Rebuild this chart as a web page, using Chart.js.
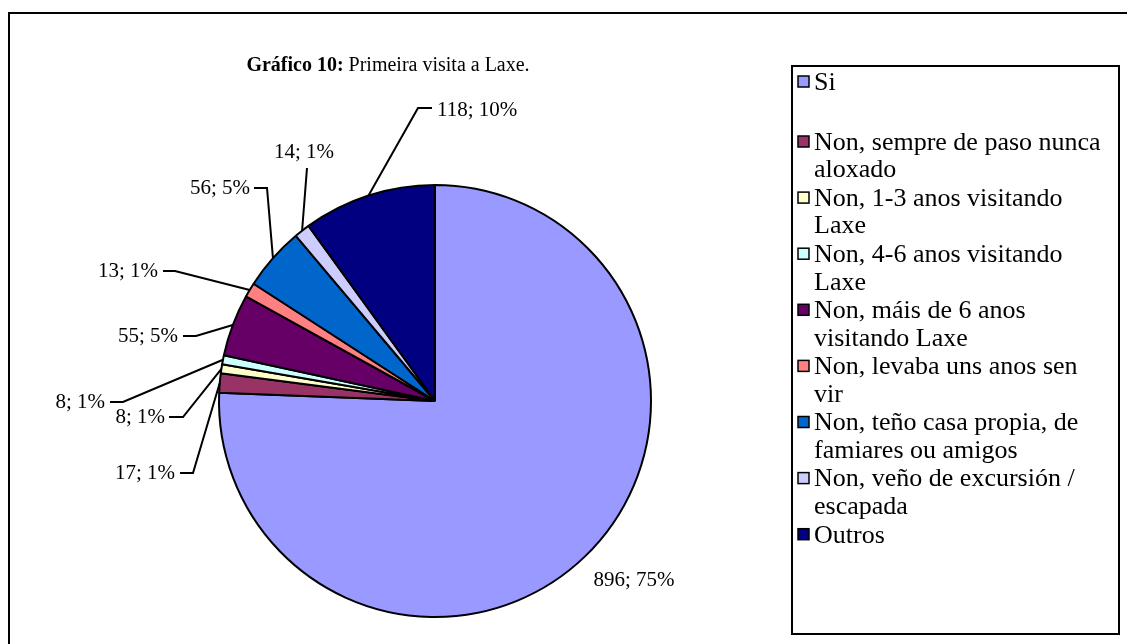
<!DOCTYPE html>
<html><head><meta charset="utf-8">
<script src="https://cdn.jsdelivr.net/npm/chart.js@4.4.1/dist/chart.umd.min.js"></script>
<style>html,body{margin:0;padding:0;background:#fff;overflow:hidden}canvas{display:block}</style>
</head><body>
<canvas id="c" width="1127" height="644"></canvas>
<script>
const categories = ["Si","Non, sempre de paso nunca aloxado","Non, 1-3 anos visitando Laxe","Non, 4-6 anos visitando Laxe","Non, máis de 6 anos visitando Laxe","Non, levaba uns anos sen vir","Non, teño casa propia, de famiares ou amigos","Non, veño de excursión / escapada","Outros"];
const legendLines = [["Si"],["Non, sempre de paso nunca","aloxado"],["Non, 1-3 anos visitando","Laxe"],["Non, 4-6 anos visitando","Laxe"],["Non, máis de 6 anos","visitando Laxe"],["Non, levaba uns anos sen","vir"],["Non, teño casa propia, de","famiares ou amigos"],["Non, veño de excursión /","escapada"],["Outros"]];
const values = [896,17,8,8,55,13,56,14,118];
const percentLabels = ["75%","1%","1%","1%","5%","1%","5%","1%","10%"];
const colors = ["#9999FF","#993366","#FFFFCC","#CCFFFF","#660066","#FF8080","#0066CC","#CCCCFF","#000080"];
const titleBold = "Gráfico 10:";
const titleRest = " Primeira visita a Laxe.";

const FONT = "'Times New Roman','Liberation Serif',serif";
const labelLayout = [
  {x:634,y:580,align:"center",leader:false},
  {x:175,y:473,align:"right",hx:[180,193]},
  {x:165,y:417,align:"right",hx:[169,183]},
  {x:105,y:402,align:"right",hx:[110,123]},
  {x:178,y:336,align:"right",hx:[183,196]},
  {x:158,y:271,align:"right",hx:[163,175]},
  {x:250,y:188,align:"right",hx:[254,267]},
  {x:304,y:152,align:"center",drop:[307,168]},
  {x:437,y:110,align:"left",hx:[418,432],hy:108}
];

const decor = {
  id:"decor",
  beforeDraw(chart){
    const ctx = chart.ctx;
    ctx.save();
    ctx.fillStyle="#fff";ctx.fillRect(0,0,chart.width,chart.height);
    ctx.strokeStyle="#000";ctx.lineWidth=2;
    ctx.strokeRect(9,13,1300,800);
    ctx.restore();
  },
  afterDatasetsDraw(chart){
    const ctx = chart.ctx;
    const meta = chart.getDatasetMeta(0);
    ctx.save();
    ctx.fillStyle="#000";ctx.textBaseline="middle";
    ctx.font="bold 20px "+FONT;
    const wb = ctx.measureText(titleBold).width;
    ctx.font="20px "+FONT;
    const wr = ctx.measureText(titleRest).width;
    const tx0 = 388 - (wb+wr)/2;
    ctx.textAlign="left";
    ctx.font="bold 20px "+FONT; ctx.fillText(titleBold,tx0,66);
    ctx.font="20px "+FONT; ctx.fillText(titleRest,tx0+wb,66);
    ctx.font="21px "+FONT;
    ctx.lineWidth=2;ctx.strokeStyle="#000";
    meta.data.forEach((arc,i)=>{
      const p = arc.getProps(["x","y","startAngle","endAngle","outerRadius"],true);
      const mid=(p.startAngle+p.endAngle)/2;
      const ax=p.x+Math.cos(mid)*p.outerRadius, ay=p.y+Math.sin(mid)*p.outerRadius;
      const L=labelLayout[i];
      const txt=values[i]+"; "+percentLabels[i];
      ctx.textAlign=L.align;ctx.fillText(txt,L.x,L.y);
      if(L.hx){
        const hy = L.hy!==undefined?L.hy:L.y;
        ctx.beginPath();
        if(L.align==="left"){ctx.moveTo(L.hx[1],hy);ctx.lineTo(L.hx[0],hy);}
        else {ctx.moveTo(L.hx[0],hy);ctx.lineTo(L.hx[1],hy);}
        ctx.lineTo(ax,ay);ctx.stroke();
      } else if(L.drop){
        ctx.beginPath();ctx.moveTo(L.drop[0],L.drop[1]);ctx.lineTo(ax,ay);ctx.stroke();
      }
    });
    const bx=792,by=66,bw=327,bh=568;
    ctx.lineWidth=2;ctx.strokeStyle="#000";
    ctx.strokeRect(bx,by,bw,bh);
    ctx.textAlign="left";
    ctx.font="26px "+FONT;
    legendLines.forEach((lines,i)=>{
      const ly = i===0?82:142+(i-1)*56.1;
      ctx.fillStyle=colors[i];ctx.fillRect(798,ly-6,11,11);
      ctx.lineWidth=1.5;ctx.strokeStyle="#000";ctx.strokeRect(798,ly-6,11,11);
      ctx.fillStyle="#000";
      lines.forEach((t,k)=>ctx.fillText(t,814,ly+1+k*27.5));
    });
    ctx.restore();
  }
};

new Chart(document.getElementById("c"),{
  type:"pie",
  data:{labels:categories,datasets:[{data:values,backgroundColor:colors,borderColor:"#000",borderWidth:2,hoverOffset:0,radius:216}]},
  options:{
    responsive:false,animation:false,
    layout:{padding:{left:200,right:457,top:170,bottom:12}},
    plugins:{legend:{display:false},tooltip:{enabled:false},title:{display:false}},
    events:[]
  },
  plugins:[decor]
});
</script>
</body></html>
